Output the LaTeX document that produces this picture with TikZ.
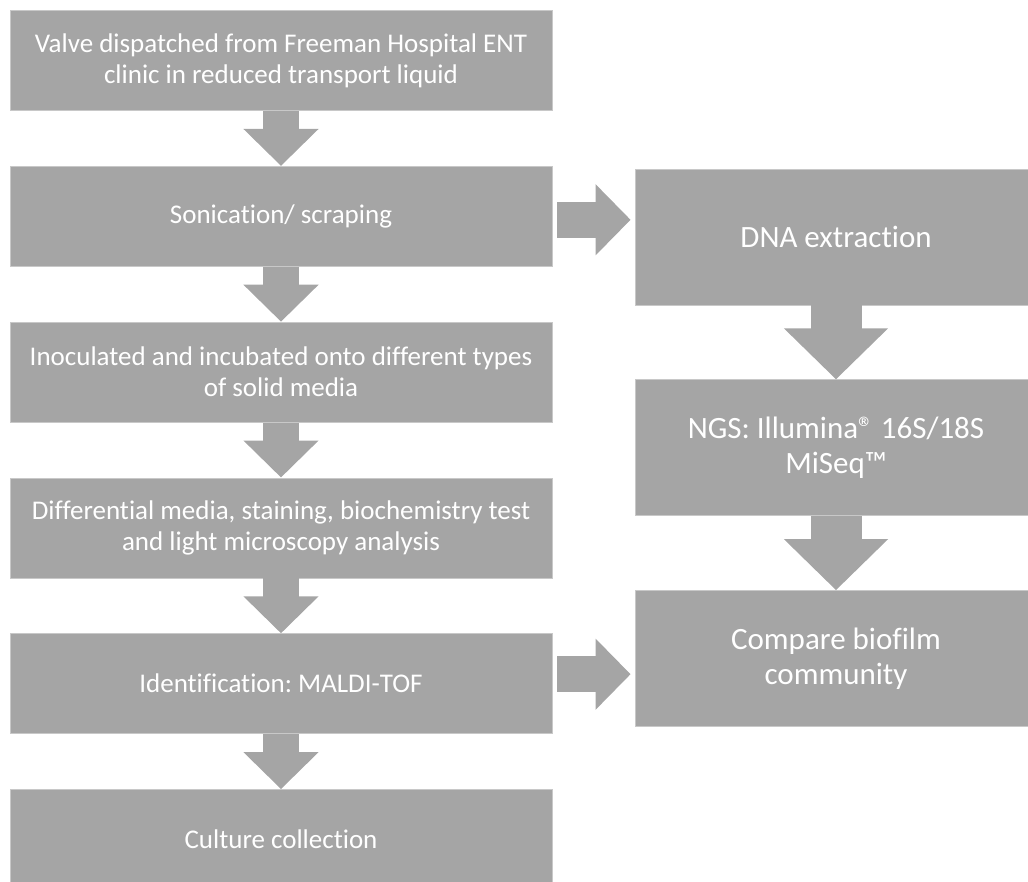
\documentclass[tikz,border=0pt]{standalone}
\usepackage{fontspec}
\setmainfont{Carlito}[Ligatures=NoCommon]
\usepackage{xcolor}
\usepackage{tikz}
\usetikzlibrary{arrows.meta, positioning}
\frenchspacing
\definecolor{boxgray}{HTML}{A5A5A5}
\definecolor{edgegray}{HTML}{C8C8C8}
\newcommand{\labtext}{\fontsize{27}{31}\selectfont}
\newcommand{\seqtext}{\fontsize{31}{35}\selectfont}
\tikzset{
  lab/.style   ={rectangle, draw=edgegray, line width=0.8pt, fill=boxgray,
                 text=white, align=center, minimum width=542pt,
                 minimum height=100pt, font=\labtext},
  seq/.style   ={rectangle, draw=edgegray, line width=0.8pt, fill=boxgray,
                 text=white, align=center, minimum width=402pt,
                 minimum height=136pt, font=\seqtext},
  down/.style  ={draw=boxgray, line width=36pt, -{Triangle[length=37pt, width=73pt]}},
  bigdown/.style={draw=boxgray, line width=51pt, -{Triangle[length=51pt, width=101pt]}},
  side/.style  ={draw=boxgray, line width=36pt, -{Triangle[length=35pt, width=69pt]}},
}

\begin{document}
\begin{tikzpicture}[x=1pt, y=-1pt]
  \useasboundingbox (0,0) rectangle (1028,881);
  \clip (0,0) rectangle (1028,881);

  % culture-based work-up
  \node[lab] (valve) at (281,60.5)
    {Valve dispatched from Freeman Hospital ENT\\clinic in reduced transport liquid};
  \node[lab, below=55pt of valve] (sonic) {Sonication/ scraping};
  \node[lab, below=55pt of sonic] (inoc)
    {Inoculated and incubated onto different types\\of solid media};
  \node[lab, below=55pt of inoc]  (diff)
    {Differential media, staining, biochemistry test\\and light microscopy analysis};
  \node[lab, below=55pt of diff]  (ident) {Identification: MALDI-TOF};
  \node[lab, below=55pt of ident] (cult)  {Culture collection};

  % sequencing branch
  \node[seq] (dna) at (836,237) {DNA extraction};
  \node[seq, below=74pt of dna] (ngs)
    {NGS: Illumina® 16S/18S\\MiSeq™};
  \node[seq, below=74pt of ngs] (comp) {Compare biofilm\\community};

  \draw[down] (valve) -- (sonic);
  \draw[down] (sonic) -- (inoc);
  \draw[down] (inoc)  -- (diff);
  \draw[down] (diff)  -- (ident);
  \draw[down] (ident) -- (cult);

  \draw[bigdown] (dna) -- (ngs);
  \draw[bigdown] (ngs) -- (comp);

  \draw[side] ([shift={(5pt,-3.5pt)}]sonic.east)
           -- ([shift={(-4pt,-3.5pt)}]sonic.east -| dna.west);
  \draw[side] ([shift={(5pt,9.5pt)}]ident.east)
           -- ([shift={(-4pt,9.5pt)}]ident.east -| comp.west);

\end{tikzpicture}
\end{document}
